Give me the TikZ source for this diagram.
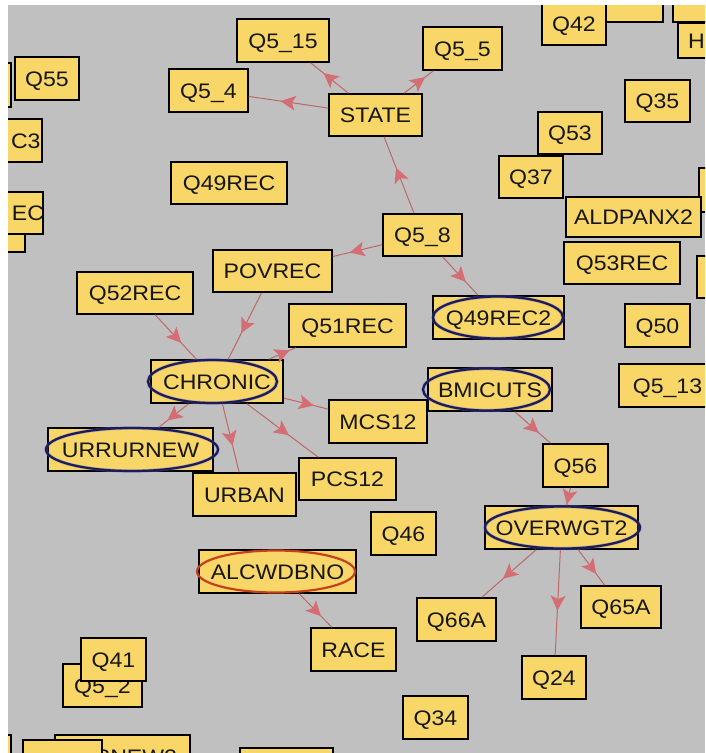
\documentclass[tikz,border=0pt]{standalone}
\usepackage{fontspec}
\setmainfont{Liberation Sans}[FakeStretch=1.1]
\usetikzlibrary{decorations.markings}
\definecolor{bg}{RGB}{192,192,192}
\definecolor{boxfill}{RGB}{248,214,104}
\definecolor{edgecol}{RGB}{190,104,104}
\definecolor{arrowcol}{RGB}{212,110,116}
\definecolor{navy}{RGB}{28,28,84}
\definecolor{halo}{RGB}{100,100,220}
\definecolor{rust}{RGB}{196,64,30}
\definecolor{ink}{RGB}{22,22,22}
\tikzset{
  box/.style={draw=black, line width=1.5pt, fill=boxfill, inner sep=0pt, text=ink,
    font=\fontsize{21}{24}\selectfont, text height=15pt, text depth=0pt, align=center},
  edge/.style={draw=edgecol, line width=1pt, postaction={decorate},
    decoration={markings, mark=at position 0.5 with {\fill[arrowcol] (8pt,0pt) -- (-7pt,7.5pt) -- (-3.5pt,0pt) -- (-7pt,-7.5pt) -- cycle;}}},
  ellhalo/.style={draw=halo, line width=3.4pt, opacity=0.45},
  ellnavy/.style={draw=navy, line width=2.2pt},
  ellrust/.style={draw=rust, line width=2.2pt},
}
% #1 options, #2 name, #3 x1, #4 y1, #5 x2, #6 y2, #7 text
\newcommand\bx[7][]{\node[box,#1,minimum width={(#5-#3)*1pt},minimum height={(#6-#4)*1pt}] (#2) at ({(#3+#5)/2},{(#4+#6)/2}) {#7};}
\begin{document}
\begin{tikzpicture}[x=1pt,y=-1pt]
\useasboundingbox (0,0) rectangle (705,753);
\clip (0,0) rectangle (705,753);
\fill[bg] (0,0) rectangle (705,753);

% left edge partial boxes
\bx{nleft}{-40}{63}{11}{107}{}
\bx{n55}{15}{57}{79}{100}{Q55}
\bx[text width=22pt, align=right]{nc3}{2}{119}{42}{162}{C3}
\bx{nunder}{-20}{226}{25}{252}{}
\bx[text width=21pt, align=right]{nec}{2}{192}{43}{234}{EC}

% top area
\bx{q5fifteen}{237}{19}{329}{62}{Q5\_15}
\bx{q5four}{169}{69}{248}{112}{Q5\_4}
\bx{state}{329}{94}{422}{136}{STATE}
\bx{q5five}{423}{27}{502}{70}{Q5\_5}
\bx{q42}{542}{2}{606}{45}{Q42}
\bx{tbone}{606}{-25}{663}{22}{}
\bx{tbtwo}{673}{-25}{720}{22}{}
\bx[text width=22pt, align=left]{hbox}{678}{23}{720}{58}{H}
\bx{q35}{625}{80}{690}{122}{Q35}
\bx{q53}{538}{112}{602}{154}{Q53}
\bx{q37}{499}{156}{563}{198}{Q37}
\bx{rbone}{699}{168}{740}{212}{}
\bx{aldpanx}{566}{197}{701}{237}{ALDPANX2}
\bx{q53rec}{564}{242}{680}{284}{Q53REC}
\bx{rbtwo}{697}{256}{740}{298}{}
\bx{q49rec}{171}{162}{287}{204}{Q49REC}
\bx{q5eight}{383}{214}{462}{256}{Q5\_8}

% middle
\bx{povrec}{213}{250}{332}{292}{POVREC}
\bx{q52rec}{77}{272}{193}{314}{Q52REC}
\bx{q51rec}{289}{304}{406}{347}{Q51REC}
\bx{q49rectwo}{433}{296}{564}{339}{Q49REC2}
\bx{q50}{625}{304}{690}{347}{Q50}
\bx{q5thirteen}{619}{364}{716}{407}{Q5\_13}
\bx{chronic}{151}{360}{283}{403}{CHRONIC}
\bx{bmicuts}{428}{368}{552}{411}{BMICUTS}
\bx{mcs}{329}{400}{427}{443}{MCS12}
\bx{urrurnew}{48}{428}{213}{471}{URRURNEW}
\bx{q56}{543}{444}{608}{487}{Q56}
\bx{pcs}{299}{458}{396}{500}{PCS12}
\bx{urban}{193}{473}{296}{516}{URBAN}

% lower
\bx{q46}{371}{512}{436}{555}{Q46}
\bx{overwgt}{485}{506}{638}{549}{OVERWGT2}
\bx{alc}{199}{550}{356}{593}{ALCWDBNO}
\bx{q65a}{581}{586}{661}{628}{Q65A}
\bx{q66a}{417}{598}{496}{641}{Q66A}
\bx{race}{311}{628}{396}{671}{RACE}
\bx{q24}{522}{656}{586}{699}{Q24}
\bx{q5two}{63}{664}{142}{707}{Q5\_2}
\bx{q41}{81}{638}{146}{681}{Q41}
\bx{q34}{403}{696}{468}{739}{Q34}

% bottom edge partial boxes
\bx{lbot}{-40}{735}{11}{790}{}
\bx[text width=109pt, align=right]{snew}{55}{735}{190}{778}{SNEW2}
\bx{q5six}{23}{740}{102}{783}{Q5\_6}
\bx{bmid}{240}{748}{333}{791}{}

% ellipses
\draw[ellhalo] ([xshift=-4.5pt]chronic.center) ellipse [x radius=64.5pt, y radius=21.5pt];
\draw[ellnavy] ([xshift=-4.5pt]chronic.center) ellipse [x radius=64.5pt, y radius=21.5pt];
\draw[ellhalo] ([xshift=1.5pt]urrurnew.center) ellipse [x radius=86pt, y radius=21.5pt];
\draw[ellnavy] ([xshift=1.5pt]urrurnew.center) ellipse [x radius=86pt, y radius=21.5pt];
\draw[ellhalo] ([xshift=-0.5pt]q49rectwo.center) ellipse [x radius=65pt, y radius=21pt];
\draw[ellnavy] ([xshift=-0.5pt]q49rectwo.center) ellipse [x radius=65pt, y radius=21pt];
\draw[ellhalo] ([xshift=-3.5pt]bmicuts.center) ellipse [x radius=63.5pt, y radius=21pt];
\draw[ellnavy] ([xshift=-3.5pt]bmicuts.center) ellipse [x radius=63.5pt, y radius=21pt];
\draw[ellhalo] ([xshift=1pt]overwgt.center) ellipse [x radius=77.5pt, y radius=21pt];
\draw[ellnavy] ([xshift=1pt]overwgt.center) ellipse [x radius=77.5pt, y radius=21pt];
\draw[ellrust] ([xshift=-1.5pt]alc.center) ellipse [x radius=79pt, y radius=21pt];

% edges
\draw[edge] (state) -- (q5four);
\draw[edge] (state) -- (q5fifteen);
\draw[edge] (state) -- (q5five);
\draw[edge] (q5eight) -- (state);
\draw[edge] (q5eight) -- (povrec);
\draw[edge] (q5eight) -- (q49rectwo);
\draw[edge] (povrec) -- (chronic);
\draw[edge] (q52rec) -- (chronic);
\draw[edge] (chronic) -- (q51rec);
\draw[edge] (chronic) -- (mcs);
\draw[edge] (chronic) -- (pcs);
\draw[edge] (chronic) -- (urban);
\draw[edge] (chronic) -- (urrurnew);
\draw[edge] (bmicuts) -- (q56);
\draw[edge] (q56) -- (overwgt);
\draw[edge] (overwgt) -- (q66a);
\draw[edge] (overwgt) -- (q24);
\draw[edge] (overwgt) -- (q65a);
\draw[edge] (alc) -- (race);

% white margins of the screenshot
\fill[white] (0,0) rectangle (705,5);
\fill[white] (0,0) rectangle (8,753);
\end{tikzpicture}
\end{document}
